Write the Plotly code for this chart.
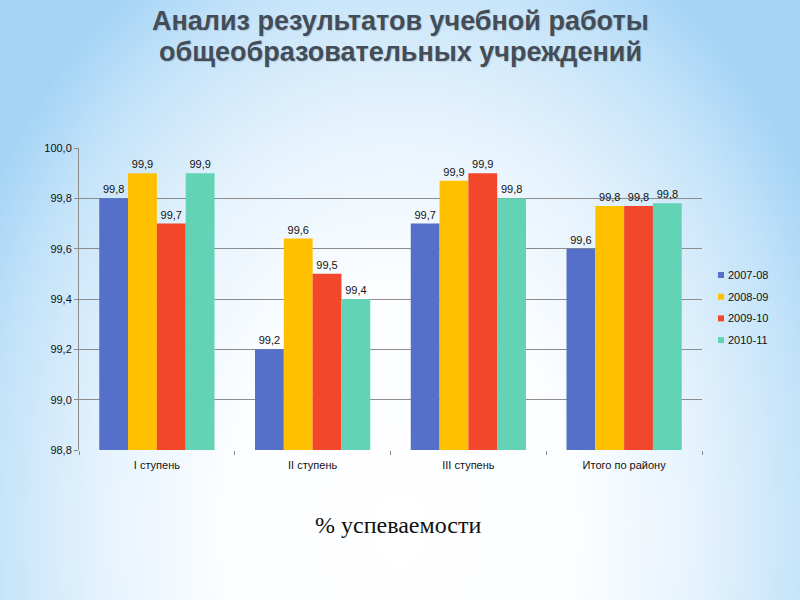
import base64
import plotly.graph_objects as go

categories = ["I ступень", "II ступень", "III ступень", "Итого по району"]
series_names = ["2007-08", "2008-09", "2009-10", "2010-11"]
values_2007_08 = [99.8, 99.2, 99.7, 99.6]
values_2008_09 = [99.9, 99.64, 99.87, 99.77]
values_2009_10 = [99.7, 99.5, 99.9, 99.77]
values_2010_11 = [99.9, 99.4, 99.8, 99.78]
y_ticks = [98.8, 99.0, 99.2, 99.4, 99.6, 99.8, 100.0]
title_lines = ["Анализ результатов учебной работы", "общеобразовательных учреждений"]
subtitle = "% успеваемости"

colors = ["#5470C8", "#FFC000", "#F2472A", "#62D3B4"]
all_values = [values_2007_08, values_2008_09, values_2009_10, values_2010_11]

W, H = 800, 600
L, R, T, B = 79, 98, 148, 150
pw, ph = W - L - R, H - T - B


def px_x(px):
    return (px - L) / pw


def px_y(py):
    return (T + ph - py) / ph


svg = f'''<svg xmlns="http://www.w3.org/2000/svg" width="{W}" height="{H}" viewBox="0 0 {W} {H}">
<defs><radialGradient id="g" gradientUnits="userSpaceOnUse" cx="400" cy="530" r="600"
 gradientTransform="translate(400 530) scale(0.8 1.1) translate(-400 -530)">
<stop offset="0" stop-color="#ffffff"/>
<stop offset="0.38" stop-color="#fbfdff"/>
<stop offset="0.62" stop-color="#e6f3fd"/>
<stop offset="0.85" stop-color="#c4e3f9"/>
<stop offset="1" stop-color="#a3d4f5"/>
</radialGradient></defs>
<rect width="{W}" height="{H}" fill="url(#g)"/></svg>'''
bg_src = "data:image/svg+xml;base64," + base64.b64encode(svg.encode()).decode()

fig = go.Figure()
for name, vals, col in zip(series_names, all_values, colors):
    fig.add_trace(go.Bar(
        x=categories, y=vals, name=name, marker=dict(color=col, line=dict(width=0)),
        texttemplate="%{y:.1f}", textposition="outside", cliponaxis=False,
        textfont=dict(family="Liberation Sans", size=11, color="#111111"),
        showlegend=False,
    ))

shapes = []
annotations = []
for i, (name, col) in enumerate(zip(series_names, colors)):
    yc = 275 + 21.7 * i
    shapes.append(dict(type="rect", xref="paper", yref="paper",
                       x0=px_x(718), x1=px_x(724), y0=px_y(yc + 3), y1=px_y(yc - 3),
                       fillcolor=col, line=dict(width=0)))
    annotations.append(dict(text=name, xref="paper", yref="paper",
                            x=px_x(726), y=px_y(yc), xanchor="left", yanchor="middle",
                            showarrow=False,
                            font=dict(family="Liberation Sans", size=11, color="#111111")))

for line, yc in zip(title_lines, [21, 52]):
    annotations.append(dict(text="<b>" + line + "</b>", xref="paper", yref="paper",
                            x=px_x(400), y=px_y(yc), xanchor="center", yanchor="middle",
                            showarrow=False,
                            font=dict(family="Liberation Sans", size=27, color="#434d58",
                                      shadow="1px 1px 1px rgba(0,0,0,0.15)")))

annotations.append(dict(text=subtitle, xref="paper", yref="paper",
                        x=px_x(398), y=px_y(525), xanchor="center", yanchor="middle",
                        showarrow=False,
                        font=dict(family="Liberation Serif", size=24, color="#111111")))

fig.update_layout(
    width=W, height=H,
    margin=dict(l=L, r=R, t=T, b=B),
    paper_bgcolor="#ffffff", plot_bgcolor="rgba(0,0,0,0)",
    separators=", ",
    barmode="group", bargap=0.26, bargroupgap=0,
    font=dict(family="Liberation Sans", size=11, color="#111111"),
    showlegend=False,
    images=[dict(source=bg_src, xref="paper", yref="paper",
                 x=-L / pw, y=1 + T / ph, sizex=W / pw, sizey=H / ph,
                 xanchor="left", yanchor="top", sizing="stretch", layer="below")],
    shapes=shapes,
    annotations=annotations,
)
fig.update_xaxes(showline=False, showgrid=False, ticks="outside", tickson="boundaries",
                 ticklen=4, tickcolor="#8c8c8c", tickfont=dict(size=11),
                 ticklabelstandoff=7)
fig.update_yaxes(range=[98.8, 100.0], tickvals=y_ticks, tickformat=".1f",
                 showline=True, linecolor="#8c8c8c", linewidth=1,
                 showgrid=True, gridcolor="#8c8c8c", gridwidth=1,
                 ticks="outside", ticklen=4, tickcolor="#8c8c8c",
                 zeroline=False, tickfont=dict(size=11))

fig.write_html("out.html", config={"displayModeBar": False},
               post_script="document.body.style.margin='0px';")
